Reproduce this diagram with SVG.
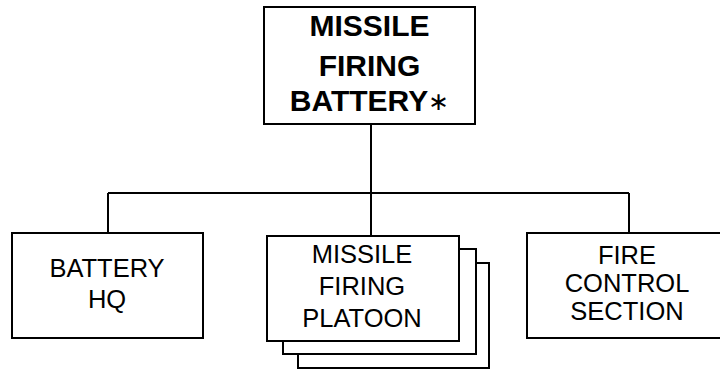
<svg xmlns="http://www.w3.org/2000/svg" width="720" height="369" viewBox="0 0 720 369">
<style>
.box{fill:#fff;stroke:#000;stroke-width:2}
.ln{fill:none;stroke:#000;stroke-width:2}
text{font-family:"Liberation Sans",Arial,sans-serif;fill:#000;text-anchor:middle}
.t{font-size:25.5px}
.b{font-size:30px;font-weight:bold}
</style>
<rect width="720" height="369" fill="#fff"/>
<g id="connectors">
<path class="ln" d="M371 124V236M108 193H629M108 193V233M629 193V233"/>
</g>
<g id="battery">
<rect class="box" x="264" y="7" width="211" height="117"/>
<text class="b" x="369.5" y="36">MISSILE</text>
<text class="b" x="369.5" y="76">FIRING</text>
<text class="b" x="369.5" y="111">BATTERY<tspan font-weight="normal" font-family="'DejaVu Sans',sans-serif" font-size="25" dy="-1">∗</tspan></text>
</g>
<g id="hq">
<rect class="box" x="12" y="233" width="191" height="105"/>
<text class="t" x="107" y="277">BATTERY</text>
<text class="t" x="107" y="308">HQ</text>
</g>
<g id="platoon">
<rect class="box" x="298" y="263" width="191" height="105"/>
<rect class="box" x="283" y="249" width="193" height="105"/>
<rect class="box" x="267" y="236" width="192" height="105"/>
<text class="t" x="362" y="263">MISSILE</text>
<text class="t" x="362" y="295">FIRING</text>
<text class="t" x="362" y="327">PLATOON</text>
</g>
<g id="firecontrol">
<rect class="box" x="527" y="233" width="200" height="105"/>
<text class="t" x="627" y="264">FIRE</text>
<text class="t" x="627" y="292">CONTROL</text>
<text class="t" x="627" y="320">SECTION</text>
</g>
</svg>
